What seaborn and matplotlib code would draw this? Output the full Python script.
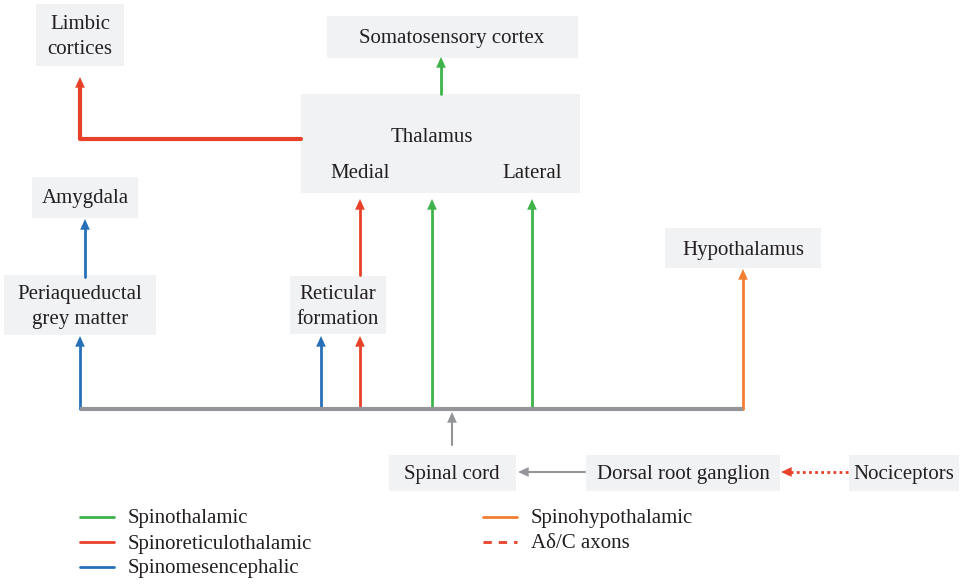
import matplotlib
matplotlib.use("Agg")
import matplotlib.pyplot as plt
import pandas as pd
import seaborn as sns

# Diagram layout in pixel space (x right, y down), 963 x 584 canvas
W, H = 963, 584

node_labels = ["Limbic\ncortices", "Somatosensory cortex", "Amygdala",
               "Periaqueductal\ngrey matter", "Reticular\nformation",
               "Hypothalamus", "Spinal cord", "Dorsal root ganglion", "Nociceptors"]
node_centers = [(80, 35), (452, 37), (85, 197), (80, 305), (338, 305),
                (743, 248), (452, 473), (683, 473), (904, 473)]
node_sizes = [(88, 62), (251, 42), (106, 41), (152, 60), (96, 58),
              (156, 40), (127, 36), (194, 36), (110, 36)]

thalamus_box = (301, 94, 279, 99)   # x, y, width, height
thalamus_texts = ["Thalamus", "Medial", "Lateral"]
thalamus_text_pos = [(432, 136), (360, 171), (532, 171)]

pathways = ["Spinothalamic", "Spinoreticulothalamic", "Spinomesencephalic",
            "Spinohypothalamic", "Aδ/C axons"]
pathway_colors = ["#3db34a", "#e8412a", "#2770b8", "#f27f31", "#e8412a"]

# tracts: pathway, x, y start, y end (arrow tip)
tract_pathway = ["Spinomesencephalic", "Spinomesencephalic", "Spinomesencephalic",
                 "Spinoreticulothalamic", "Spinoreticulothalamic",
                 "Spinothalamic", "Spinothalamic", "Spinothalamic",
                 "Spinohypothalamic"]
tract_x = [80, 85, 321, 360, 360, 432, 532, 441, 743]
tract_y0 = [409, 277, 409, 409, 275, 409, 409, 94, 409]
tract_y1 = [336, 219, 336, 336, 199, 199, 199, 57, 269]

# thalamus -> limbic cortices (L-shaped)
limbic_x = [301, 80, 80]
limbic_y = [139, 139, 77]

spine_x = [80, 743]
spine_y = 409
grey = "#949599"
box_color = "#f1f2f4"
text_color = "#231f20"

sns.set_theme(style="white")
plt.rcParams["font.family"] = ["Liberation Serif", "DejaVu Serif"]

fig = plt.figure(figsize=(W / 100, H / 100), dpi=100)
ax = fig.add_axes([0, 0, 1, 1])
ax.set_xlim(0, W)
ax.set_ylim(H, 0)
ax.axis("off")

FS = 15
HEAD = 8  # arrow head length in px
DY = 2    # optical shift of text down

def head(x0, y0, x1, y1, color):
    ax.annotate("", xy=(x1, y1), xytext=(x0, y0),
                arrowprops=dict(arrowstyle="-|>,head_length=0.55,head_width=0.25",
                                color=color, lw=0, shrinkA=0, shrinkB=0,
                                mutation_scale=14))

# boxes
for label, (cx, cy), (w, h) in zip(node_labels, node_centers, node_sizes):
    ax.add_patch(plt.Rectangle((cx - w / 2, cy - h / 2), w, h,
                               color=box_color, lw=0, zorder=0))
    ax.text(cx, cy + DY, label, ha="center", va="center", fontsize=FS,
            color=text_color, linespacing=1.4)

tx, ty, tw, th = thalamus_box
ax.add_patch(plt.Rectangle((tx, ty), tw, th, color=box_color, lw=0, zorder=0))
for t, (x, y) in zip(thalamus_texts, thalamus_text_pos):
    ax.text(x, y + DY, t, ha="center", va="center", fontsize=FS, color=text_color)

color_of = dict(zip(pathways, pathway_colors))

# tract lines drawn through seaborn
rows = []
for i, (p, x, y0, y1) in enumerate(zip(tract_pathway, tract_x, tract_y0, tract_y1)):
    rows.append({"seg": i, "pathway": p, "x": x, "y": y0})
    rows.append({"seg": i, "pathway": p, "x": x, "y": y1 + HEAD - 1})
seg_df = pd.DataFrame(rows)
sns.lineplot(data=seg_df, x="x", y="y", hue="pathway", units="seg",
             estimator=None, sort=False, palette=color_of, linewidth=2,
             legend=False, ax=ax)
for p, x, y0, y1 in zip(tract_pathway, tract_x, tract_y0, tract_y1):
    head(x, y1 + HEAD, x, y1, color_of[p])

# limbic L
limbic_df = pd.DataFrame({"x": limbic_x[:2] + [limbic_x[2]],
                          "y": limbic_y[:2] + [limbic_y[2] + HEAD - 1]})
sns.lineplot(data=limbic_df, x="x", y="y", sort=False, estimator=None,
             color=color_of["Spinoreticulothalamic"], linewidth=3, ax=ax)
head(limbic_x[2], limbic_y[2] + HEAD, limbic_x[2], limbic_y[2],
     color_of["Spinoreticulothalamic"])

# spinal cord bar
ax.plot(spine_x, [spine_y, spine_y], color=grey, lw=3, solid_capstyle="butt", zorder=3)

# spinal cord -> bar, ganglion -> spinal cord
ax.plot([452, 452], [445, 412 + HEAD - 1], color=grey, lw=1.5)
head(452, 412 + HEAD, 452, 412, grey)
ax.plot([585, 518 + HEAD - 1], [472, 472], color=grey, lw=1.5)
head(518 + HEAD, 472, 518, 472, grey)

# nociceptors -> ganglion (dotted)
ax.plot([848, 781 + HEAD - 1], [472, 472], color=color_of["Aδ/C axons"],
        lw=2, linestyle=(0, (1, 1.2)))
head(781 + HEAD, 472, 781, 472, color_of["Aδ/C axons"])

# legend
legend_x = [80, 80, 80, 483, 483]
legend_y = [517, 542, 567, 517, 542]
legend_style = ["-", "-", "-", "-", (0, (3, 2.5))]
for name, c, lx, ly, ls in zip(pathways, pathway_colors, legend_x, legend_y, legend_style):
    ax.plot([lx, lx + 34], [ly, ly], color=c, lw=2, linestyle=ls)
    ax.text(lx + 48, ly + DY, name, ha="left", va="center", fontsize=FS, color=text_color)

fig.savefig("out.png", dpi=100)
